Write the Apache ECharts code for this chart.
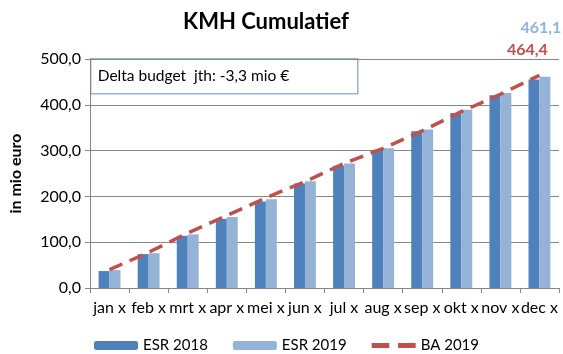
<!DOCTYPE html>
<html>
<head>
<meta charset="utf-8">
<script src="https://cdn.jsdelivr.net/npm/echarts@6/dist/echarts.min.js"></script>
<style>
  html, body { margin: 0; padding: 0; background: #fff; }
  #chart { width: 563px; height: 354px; }
</style>
</head>
<body>
<div id="chart"></div>
<script>
// Months on the category axis
const months = ['jan x', 'feb x', 'mrt x', 'apr x', 'mei x', 'jun x', 'jul x', 'aug x', 'sep x', 'okt x', 'nov x', 'dec x'];
// Cumulative amounts in million euro
const esr2018 = [37, 74, 114, 151, 189, 228, 267, 302, 342, 382, 421, 455];
const esr2019 = [39, 76, 117, 155, 194, 233, 272, 305, 346, 389, 426, 461.1];
const ba2019 = [40, 78, 120, 158, 197, 232, 272, 305, 343, 385, 423, 464.4];
// Value axis ticks
const yTicks = [0, 100, 200, 300, 400, 500];
const deltaText = 'Delta budget  jth: -3,3 mio €';

const FONT = 'Lato, "Open Sans", sans-serif';
const fmt = v => Number(v).toFixed(1).replace('.', ',');
const last = arr => arr.length - 1;
// Two short dashes used as the legend icon of the budget line
const dashIcon = 'path://M0,0h14v4h-14z M21,0h14v4h-14z';

const chart = echarts.init(document.getElementById('chart'), null, { renderer: 'canvas' });

chart.setOption({
  animation: false,
  textStyle: { fontFamily: FONT },
  title: {
    text: 'KMH Cumulatief',
    left: 261,
    top: 6,
    textAlign: 'center',
    textStyle: { fontFamily: FONT, fontSize: 22, fontWeight: 'bold', color: '#000' }
  },
  grid: { left: 87, right: 4, top: 59, bottom: 66, containLabel: false },
  legend: {
    left: 89,
    top: 333,
    itemWidth: 44,
    itemHeight: 9,
    itemGap: 25,
    textStyle: { fontFamily: FONT, fontSize: 15, color: '#000' },
    data: ['ESR 2018', 'ESR 2019', { name: 'BA 2019', icon: dashIcon }]
  },
  xAxis: {
    type: 'category',
    data: months,
    boundaryGap: true,
    axisLine: { lineStyle: { color: '#868686' } },
    axisTick: { show: true, alignWithLabel: false, length: 5, lineStyle: { color: '#868686' } },
    axisLabel: { fontFamily: FONT, fontSize: 16, color: '#000', margin: 12, interval: 0 }
  },
  yAxis: {
    type: 'value',
    min: yTicks[0],
    max: yTicks[yTicks.length - 1],
    interval: yTicks[1] - yTicks[0],
    name: 'in mio euro',
    nameLocation: 'middle',
    nameGap: 66,
    nameTextStyle: { fontFamily: FONT, fontSize: 16, fontWeight: 'bold', color: '#000' },
    axisLine: { show: true, lineStyle: { color: '#868686' } },
    axisTick: { show: true, length: 5, lineStyle: { color: '#868686' } },
    splitLine: { lineStyle: { color: '#868686', width: 1 } },
    axisLabel: { fontFamily: FONT, fontSize: 16, color: '#000', margin: 9, formatter: fmt }
  },
  series: [
    {
      name: 'ESR 2018',
      type: 'bar',
      data: esr2018,
      barGap: '0%',
      barCategoryGap: '44%',
      itemStyle: { color: '#4F81BD' }
    },
    {
      name: 'ESR 2019',
      type: 'bar',
      data: esr2019.map((v, i) => i === last(esr2019)
        ? { value: v, label: { show: true, position: 'top', offset: [-4, -36], formatter: p => fmt(p.value),
            fontFamily: FONT, fontSize: 16, fontWeight: 'bold', color: '#8DB4E2' } }
        : v),
      itemStyle: { color: '#95B3D7' }
    },
    {
      name: 'BA 2019',
      type: 'line',
      data: ba2019.map((v, i) => i === last(ba2019)
        ? { value: v, label: { show: true, position: 'top', offset: [-12, -12], formatter: p => fmt(p.value),
            fontFamily: FONT, fontSize: 16, fontWeight: 'bold', color: '#C0504D' } }
        : v),
      symbol: 'circle',
      symbolSize: 0,
      showSymbol: true,
      z: 5,
      lineStyle: { color: '#C0504D', width: 3.5, type: [14, 8] },
      itemStyle: { color: '#C0504D' }
    }
  ],
  graphic: [
    {
      type: 'group',
      left: 90,
      top: 58,
      children: [
        {
          type: 'rect',
          shape: { x: 0, y: 0, width: 267, height: 35 },
          style: { fill: '#fff', stroke: '#95B3D7', lineWidth: 1.5 }
        },
        {
          type: 'text',
          style: { x: 7, y: 17.5, text: deltaText, verticalAlign: 'middle', fill: '#000',
            font: '15.5px ' + FONT }
        }
      ]
    }
  ]
});
</script>
</body>
</html>
